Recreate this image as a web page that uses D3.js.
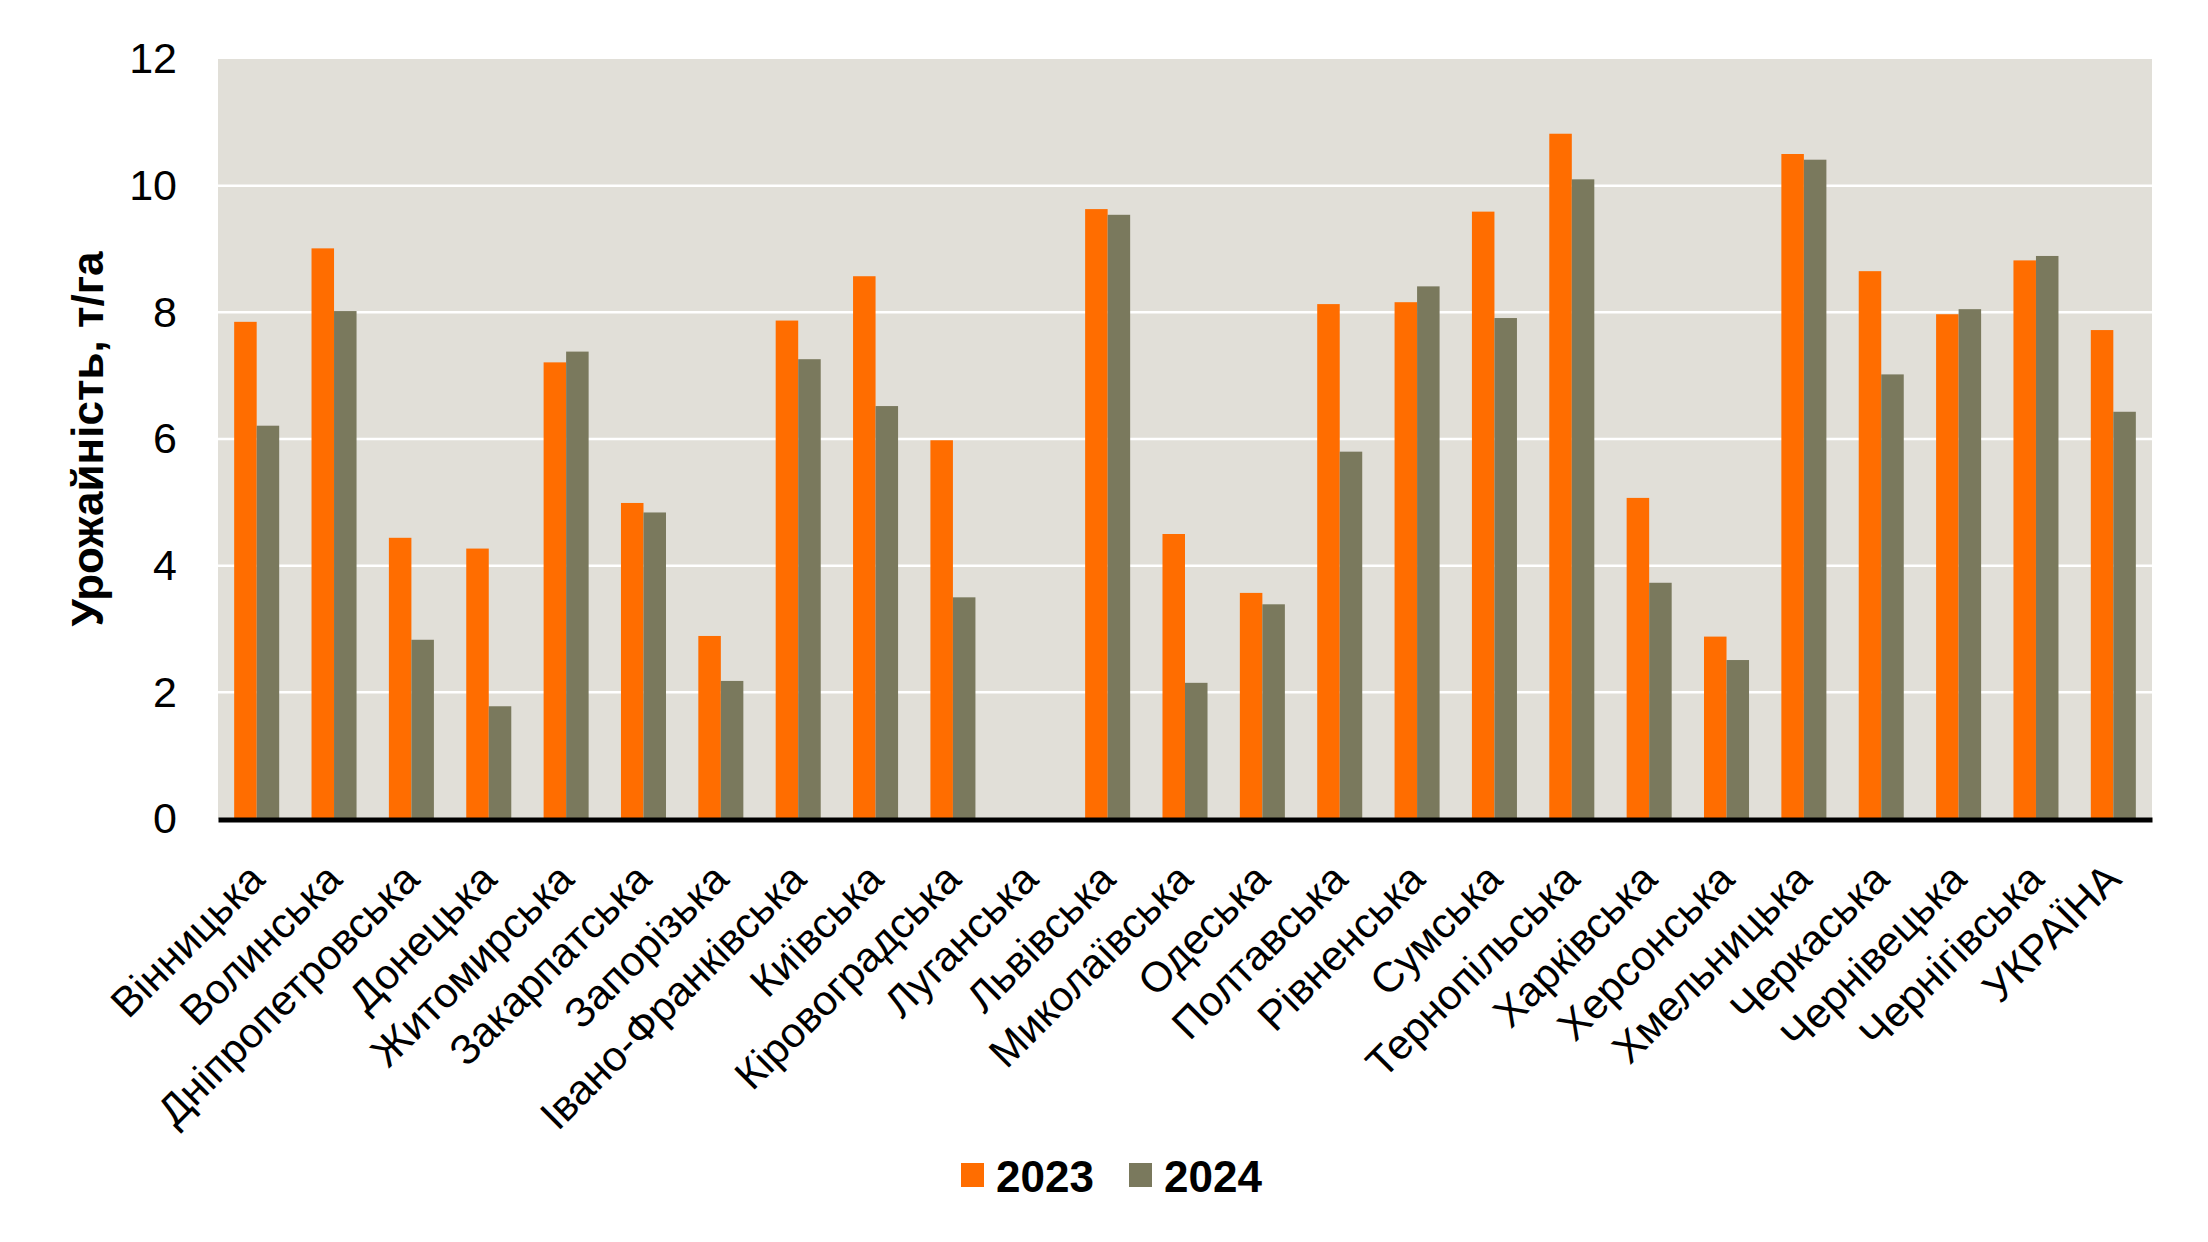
<!DOCTYPE html>
<html>
<head>
<meta charset="utf-8">
<script src="https://d3js.org/d3.v7.min.js"></script>
<style>
  body { margin: 0; background: #fff; }
  text { font-family: "Liberation Sans", Arial, sans-serif; }
</style>
</head>
<body>
<svg width="2208" height="1242"></svg>
<script>
// regions of Ukraine, yield t/ha
const regions = ['Вінницька', 'Волинська', 'Дніпропетровська', 'Донецька', 'Житомирська',
  'Закарпатська', 'Запорізька', 'Івано-Франківська', 'Київська', 'Кіровоградська',
  'Луганська', 'Львівська', 'Миколаївська', 'Одеська', 'Полтавська', 'Рівненська',
  'Сумська', 'Тернопільська', 'Харківська', 'Херсонська', 'Хмельницька', 'Черкаська',
  'Чернівецька', 'Чернігівська', 'УКРАЇНА'];

const yield2023 = [7.85, 9.01, 4.44, 4.27, 7.21, 4.99, 2.89, 7.87, 8.57, 5.98,
  null, 9.63, 4.50, 3.57, 8.13, 8.16, 9.59, 10.82, 5.07, 2.88, 10.50, 8.65, 7.97, 8.82, 7.72];

const yield2024 = [6.21, 8.02, 2.83, 1.78, 7.38, 4.84, 2.18, 7.26, 6.52, 3.50,
  null, 9.54, 2.15, 3.39, 5.80, 8.41, 7.91, 10.10, 3.73, 2.51, 10.41, 7.02, 8.05, 8.89, 6.43];

const years = ['2023', '2024'];
const yTicks = [0, 2, 4, 6, 8, 10, 12];
const colors = ['#ff6d00', '#7a795d'];

const plotLeft = 218, plotRight = 2152, plotTop = 59, zero = 819;

const svg = d3.select('svg');

const xScale = d3.scaleBand().domain(regions).range([plotLeft, plotRight])
  .paddingInner(0.418).paddingOuter(0.209);
const xSub = d3.scaleBand().domain(years).range([0, xScale.bandwidth()]);
const yScale = d3.scaleLinear().domain([0, 12]).range([zero, plotTop]);

// plot background
svg.append('rect')
  .attr('x', plotLeft).attr('y', plotTop)
  .attr('width', plotRight - plotLeft).attr('height', zero - plotTop)
  .attr('fill', '#e1dfd8');

// gridlines
svg.append('g')
  .selectAll('line')
  .data(yTicks.filter(t => t > 0 && t < 12))
  .enter()
  .append('line')
  .attr('x1', plotLeft).attr('x2', plotRight)
  .attr('y1', d => yScale(d)).attr('y2', d => yScale(d))
  .attr('stroke', '#ffffff')
  .attr('stroke-width', 2.5);

// bars
const series = [yield2023, yield2024];
series.forEach((vals, i) => {
  svg.append('g')
    .selectAll('rect')
    .data(regions.map((r, j) => ({region: r, value: vals[j]})).filter(d => d.value != null))
    .enter()
    .append('rect')
    .attr('x', d => xScale(d.region) + xSub(years[i]))
    .attr('width', xSub.bandwidth())
    .attr('y', d => yScale(d.value))
    .attr('height', d => zero - yScale(d.value))
    .attr('fill', colors[i]);
});

// y axis labels
const yAxis = svg.append('g')
  .attr('transform', `translate(${plotLeft},0)`)
  .call(d3.axisLeft(yScale).tickValues(yTicks).tickSize(0).tickPadding(41));
yAxis.select('.domain').remove();
yAxis.selectAll('text')
  .attr('font-size', 43)
  .attr('font-family', '"Liberation Sans", Arial, sans-serif')
  .attr('fill', '#000');

// x axis
const xAxis = svg.append('g')
  .attr('transform', `translate(0,${zero + 0.5})`)
  .call(d3.axisBottom(xScale).tickSize(0).tickSizeOuter(0));
xAxis.select('.domain')
  .attr('stroke', '#000')
  .attr('stroke-width', 5);
xAxis.selectAll('text')
  .attr('font-size', 42)
  .attr('font-family', '"Liberation Sans", Arial, sans-serif')
  .attr('fill', '#000')
  .attr('text-anchor', 'end')
  .attr('x', 0).attr('y', 0).attr('dy', 0)
  .attr('transform', 'translate(10,62) rotate(-45)');

// y title
svg.append('text')
  .attr('transform', `translate(103,${(plotTop + zero) / 2}) rotate(-90)`)
  .attr('text-anchor', 'middle')
  .attr('font-size', 44)
  .attr('font-weight', 'bold')
  .text('Урожайність, т/га');

// legend
const legendX = [961, 1129];
const legend = svg.append('g')
  .selectAll('g')
  .data(years)
  .enter()
  .append('g')
  .attr('transform', (d, i) => `translate(${legendX[i]},1163)`);
legend.append('rect')
  .attr('width', 23).attr('height', 24)
  .attr('fill', (d, i) => colors[i]);
legend.append('text')
  .attr('x', 35).attr('y', 29)
  .attr('font-size', 44)
  .attr('font-weight', 'bold')
  .text(d => d);
</script>
</body>
</html>
